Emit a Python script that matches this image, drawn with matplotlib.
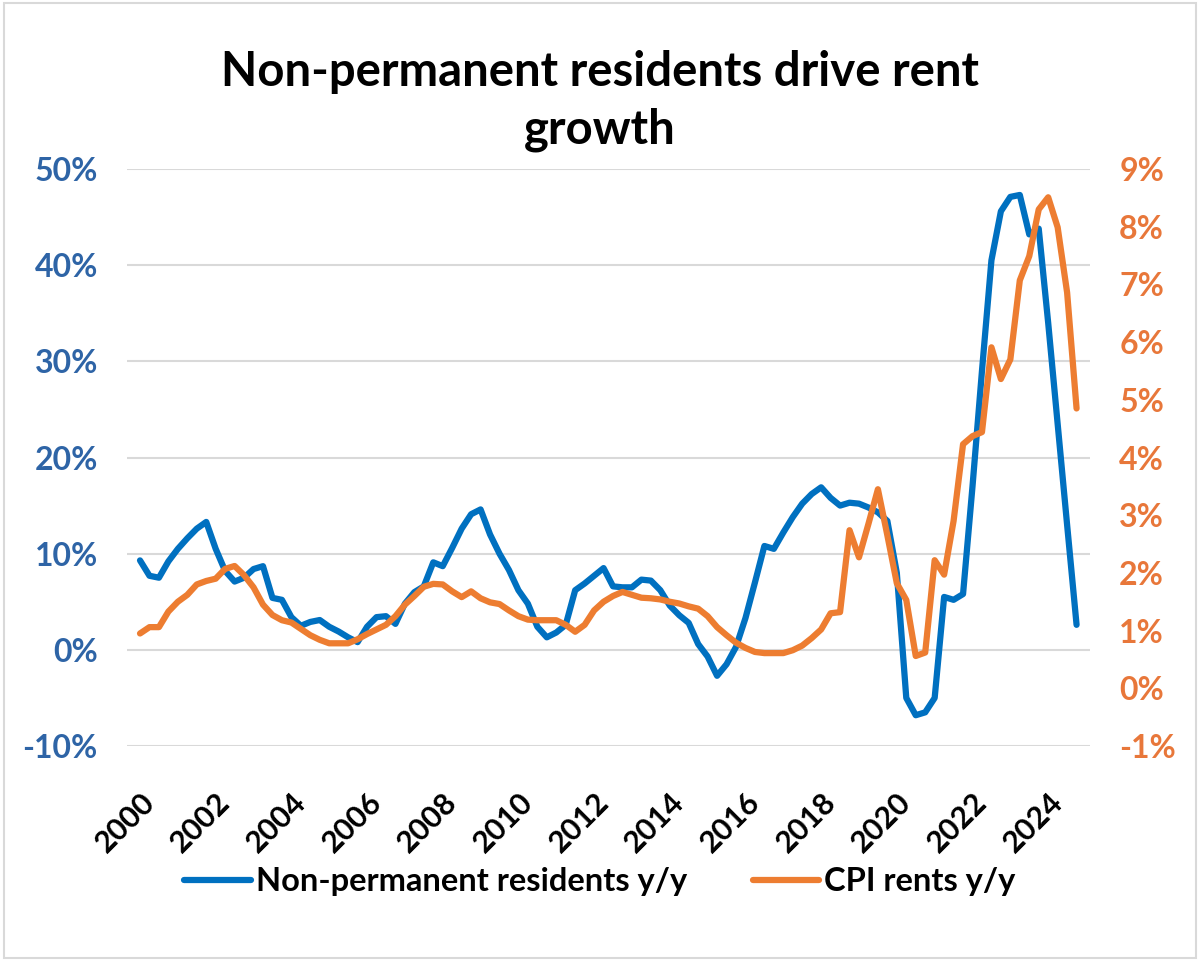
import matplotlib.pyplot as plt
import numpy as np
from matplotlib.lines import Line2D
from matplotlib.patches import Rectangle
from matplotlib.ticker import FuncFormatter

plt.rcParams['font.family'] = ['Lato', 'DejaVu Sans']
plt.rcParams['font.weight'] = 'bold'

# quarterly data, 2000Q1 .. 2024Q4 (y/y %)
start_year = 2000
npr_yy = [
    9.3, 7.7, 7.5, 9.2, 10.5, 11.6, 12.6, 13.3, 10.5, 8.2,
    7.1, 7.5, 8.4, 8.7, 5.4, 5.2, 3.4, 2.5, 2.9, 3.1,
    2.4, 1.9, 1.3, 0.8, 2.4, 3.4, 3.5, 2.7, 4.8, 6.0,
    6.6, 9.1, 8.7, 10.6, 12.6, 14.1, 14.6, 12.0, 10.0, 8.3,
    6.2, 4.8, 2.4, 1.3, 1.8, 2.6, 6.2, 6.9, 7.7, 8.5,
    6.6, 6.5, 6.5, 7.3, 7.2, 6.2, 4.6, 3.6, 2.8, 0.6,
    -0.7, -2.7, -1.5, 0.3, 3.3, 7.0, 10.8, 10.5, 12.2, 13.8,
    15.2, 16.2, 16.9, 15.8, 15.0, 15.3, 15.2, 14.8, 14.3, 13.4,
    8.0, -5.0, -6.8, -6.5, -5.0, 5.5, 5.2, 5.8, 17.0, 29.0,
    40.5, 45.6, 47.1, 47.3, 43.2, 43.8, 34.0, 23.5, 13.0, 2.6,
]
cpi_rents_yy = [
    0.95, 1.06, 1.06, 1.33, 1.50, 1.62, 1.80, 1.86, 1.90, 2.07,
    2.12, 1.96, 1.75, 1.45, 1.27, 1.18, 1.14, 1.03, 0.92, 0.84,
    0.78, 0.78, 0.78, 0.85, 0.94, 1.02, 1.10, 1.25, 1.45, 1.60,
    1.76, 1.81, 1.80, 1.68, 1.58, 1.68, 1.56, 1.49, 1.46, 1.35,
    1.25, 1.19, 1.18, 1.18, 1.18, 1.10, 0.98, 1.10, 1.35, 1.50,
    1.60, 1.67, 1.62, 1.57, 1.56, 1.54, 1.50, 1.47, 1.42, 1.38,
    1.25, 1.06, 0.92, 0.79, 0.70, 0.63, 0.61, 0.61, 0.61, 0.66,
    0.74, 0.87, 1.02, 1.30, 1.32, 2.74, 2.27, 2.85, 3.45, 2.65,
    1.82, 1.53, 0.56, 0.62, 2.22, 1.97, 2.90, 4.23, 4.37, 4.44,
    5.91, 5.36, 5.70, 7.07, 7.49, 8.30, 8.51, 7.99, 6.86, 4.85,
]
year_ticks = list(range(2000, 2025, 2))
left_ticks = [-10, 0, 10, 20, 30, 40, 50]
right_ticks = list(range(-1, 10))

quarters = start_year + np.arange(len(npr_yy)) / 4

blue = '#0070C0'
orange = '#ED7D31'
blue_lbl = '#2E64A6'
orange_lbl = '#E8773A'

fig = plt.figure(figsize=(12, 9.65), dpi=100)
ax = fig.add_axes([127 / 1200, 1 - 746 / 965, (1090 - 127) / 1200, (746 - 169) / 965])
ax2 = ax.twinx()

ax.plot(quarters, npr_yy, color=blue, lw=4.5, solid_capstyle='round', zorder=3)
ax2.plot(quarters, cpi_rents_yy, color=orange, lw=4.5, solid_capstyle='round', zorder=3)

ax.set_xlim(1999.656, 2025.105)
ax.set_ylim(-10, 50)
ax2.set_ylim(-1, 9)

ax.set_yticks(left_ticks)
ax2.set_yticks(right_ticks)
ax.yaxis.set_major_formatter(FuncFormatter(lambda v, p: f'{v:.0f}%'))
ax2.yaxis.set_major_formatter(FuncFormatter(lambda v, p: f'{v:.0f}%'))
ax.grid(axis='y', color='#d9d9d9', lw=1.5)
ax.set_axisbelow(True)

ax.set_xticks(year_ticks)
ax.set_xticklabels([str(y) for y in year_ticks], rotation=45, ha='right', va='top',
                   rotation_mode='anchor')

ax.tick_params(axis='x', length=0, pad=30, labelsize=22, labelcolor='black')
ax.tick_params(axis='y', length=0, pad=21, labelsize=23, labelcolor=blue_lbl)
ax2.tick_params(axis='y', length=0, pad=21, labelsize=23, labelcolor=orange_lbl)

for a in (ax, ax2):
    for s in a.spines.values():
        s.set_visible(False)

fig.text(0.5, 1 - 101 / 965, 'Non-permanent residents drive rent\ngrowth',
         ha='center', va='center', fontsize=34, linespacing=1.35)

handles = [Line2D([], [], color=blue, lw=4.5, solid_capstyle='round'),
           Line2D([], [], color=orange, lw=4.5, solid_capstyle='round')]
fig.legend(handles, ['Non-permanent residents y/y', 'CPI rents y/y'],
           loc='center', bbox_to_anchor=(0.5, 1 - 882 / 965), ncol=2, frameon=False,
           fontsize=23.5, handlelength=2.05, handletextpad=0.15, columnspacing=2.0)

fig.patches.append(Rectangle((0.003, 0.007), 0.994, 0.99, transform=fig.transFigure,
                             fill=False, edgecolor='#d9d9d9', lw=1.5))

fig.savefig('out.png', dpi=100)
